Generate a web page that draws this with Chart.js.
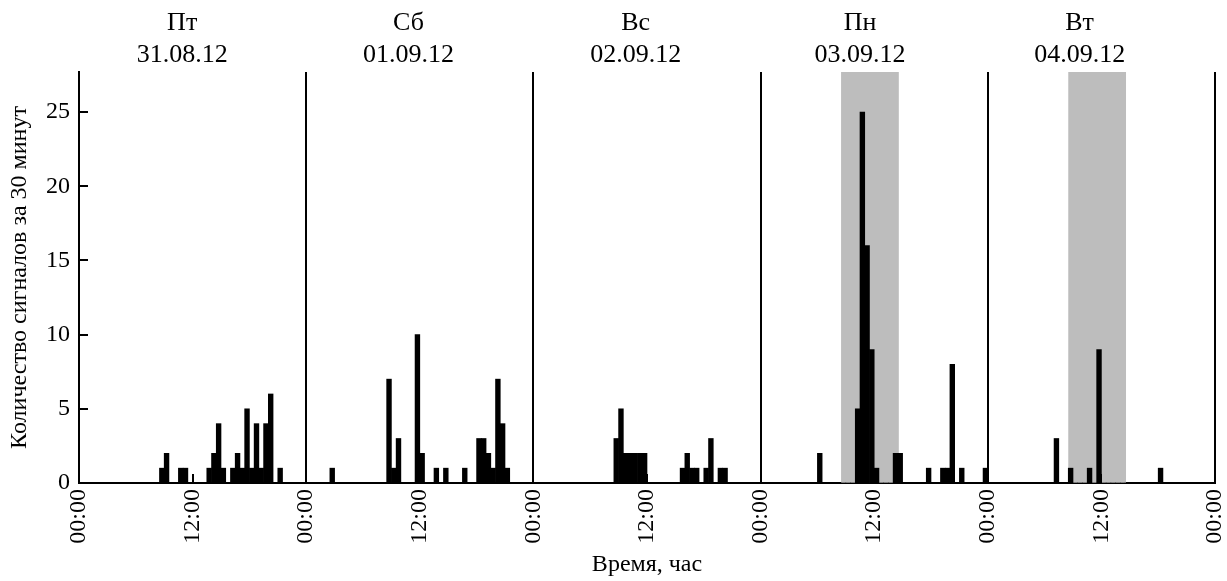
<!DOCTYPE html>
<html>
<head>
<meta charset="utf-8">
<script src="https://cdn.jsdelivr.net/npm/chart.js@4"></script>
<style>
  html, body { margin: 0; padding: 0; background: #fff; }
  #wrap { width: 1227px; height: 581px; }
</style>
</head>
<body>
<div id="wrap"><canvas id="signals"></canvas></div>
<script>
// day headers
var dayNames = ['Пт', 'Сб', 'Вс', 'Пн', 'Вт']
var dayDates = ['31.08.12', '01.09.12', '02.09.12', '03.09.12', '04.09.12']

// signals per 30 min, 48 bins per day (00:00 .. 23:30)
var fri = [0,0,0,0,0,0,0,0,0,0,0,0,0,0,0,0,0,1,2,0,0,1,1,0,0,0,0,1,2,4,1,0,1,2,1,5,1,4,1,4,6,0,1,0,0,0,0,0]
var sat = [0,0,0,0,0,1,0,0,0,0,0,0,0,0,0,0,0,7,1,3,0,0,0,10,2,0,0,1,0,1,0,0,0,1,0,0,3,3,2,1,7,4,1,0,0,0,0,0]
var sun = [0,0,0,0,0,0,0,0,0,0,0,0,0,0,0,0,0,3,5,2,2,2,2,2,0,0,0,0,0,0,0,1,2,1,1,0,1,3,0,1,1,0,0,0,0,0,0,0]
var mon = [0,0,0,0,0,0,0,0,0,0,0,0,2,0,0,0,0,0,0,0,5,25,16,9,1,0,0,0,2,2,0,0,0,0,0,1,0,0,1,1,8,0,1,0,0,0,0,1]
var tue = [0,0,0,0,0,0,0,0,0,0,0,0,0,0,3,0,0,1,0,0,0,1,0,9,0,0,0,0,0,0,0,0,0,0,0,0,1,0,0,0,0,0,0,0,0,0,0,0]

// shaded periods, hours from start of 31.08
var shadeStart = [80.5, 104.5]
var shadeEnd = [86.6, 110.6]

var yTicks = [0, 5, 10, 15, 20, 25]

var days = [fri, sat, sun, mon, tue]
var points = []
days.forEach(function (day, d) {
    day.forEach(function (v, i) {
        points.push({ x: d * 24 + i * 0.5 + 0.25, y: v })
    })
})

var serif = 'Liberation Serif'
// where the header text sits inside each day (hour of the day)
var headerHour = [10.9, 10.8, 10.8, 10.5, 9.7]

// grey periods behind the bars
var shadePlugin = {
    id: 'shade',
    beforeDatasetsDraw: function (chart) {
        var ctx = chart.ctx, x = chart.scales.x, area = chart.chartArea
        ctx.save()
        ctx.fillStyle = '#bdbdbd'
        for (var i = 0; i < shadeStart.length; i++) {
            var x0 = x.getPixelForValue(shadeStart[i])
            var x1 = x.getPixelForValue(shadeEnd[i])
            ctx.fillRect(x0, area.top, x1 - x0, area.bottom - area.top)
        }
        ctx.restore()
    }
}

// inward tick marks + day headers
var decorPlugin = {
    id: 'decor',
    afterDraw: function (chart) {
        var ctx = chart.ctx, x = chart.scales.x, y = chart.scales.y, area = chart.chartArea
        ctx.save()
        ctx.strokeStyle = '#000'
        ctx.lineWidth = 2
        ctx.beginPath()
        yTicks.forEach(function (t) {
            if (t === 0) return
            var py = Math.round(y.getPixelForValue(t))
            ctx.moveTo(area.left, py)
            ctx.lineTo(area.left + 9, py)
        })
        for (var d = 0; d < dayNames.length; d++) {
            var px = Math.round(x.getPixelForValue(d * 24 + 12))
            ctx.moveTo(px, area.bottom)
            ctx.lineTo(px, area.bottom - 9)
        }
        ctx.stroke()

        ctx.fillStyle = '#000'
        ctx.font = '26px "' + serif + '"'
        ctx.textAlign = 'center'
        ctx.textBaseline = 'middle'
        for (var k = 0; k < dayNames.length; k++) {
            var cx = x.getPixelForValue(k * 24 + headerHour[k])
            ctx.fillText(dayNames[k], cx, 23)
            ctx.fillText(dayDates[k], cx, 55)
        }
        ctx.restore()
    }
}

var config = {
    type: 'bar',
    data: {
        datasets: [{
            data: points,
            backgroundColor: '#000',
            borderWidth: 0,
            categoryPercentage: 1,
            barPercentage: 1,
        }]
    },
    options: {
        responsive: true,
        maintainAspectRatio: false,
        animation: false,
        layout: { padding: { top: 72, right: 12, left: 0, bottom: 0 } },
        plugins: { legend: { display: false }, tooltip: { enabled: false } },
        scales: {
            x: {
                type: 'linear',
                min: 0,
                max: 120,
                offset: false,
                afterFit: function (scale) {
                    scale.height = 98
                    scale.paddingLeft = 0
                    scale.paddingRight = 0
                },
                ticks: {
                    stepSize: 12,
                    minRotation: 90,
                    maxRotation: 90,
                    padding: 6,
                    color: '#000',
                    font: { family: serif, size: 24 },
                    callback: function (v) { return v % 24 === 0 ? '00:00' : '12:00' }
                },
                grid: {
                    offset: false,
                    drawTicks: false,
                    lineWidth: 2,
                    color: function (c) { return c.tick && c.tick.value % 24 === 0 ? '#000' : 'rgba(0,0,0,0)' }
                },
                border: { color: '#000', width: 2 },
                title: {
                    display: true,
                    text: 'Время, час',
                    color: '#000',
                    font: { family: serif, size: 24 },
                    padding: { top: 0, bottom: 2 }
                }
            },
            y: {
                min: 0,
                max: 27.7,
                afterFit: function (scale) { scale.width = 79 },
                afterBuildTicks: function (scale) {
                    scale.ticks = yTicks.map(function (v) { return { value: v } })
                },
                ticks: {
                    padding: 9,
                    color: '#000',
                    font: { family: serif, size: 24 }
                },
                grid: { display: false, drawTicks: false },
                border: { color: '#000', width: 2 },
                title: {
                    display: true,
                    text: 'Количество сигналов за 30 минут',
                    color: '#000',
                    font: { family: serif, size: 24 },
                    padding: { top: 5, bottom: 0 }
                }
            }
        }
    },
    plugins: [shadePlugin, decorPlugin]
}

var canvas = document.getElementById('signals')
var chart = new Chart(canvas, config)
</script>
</body>
</html>
